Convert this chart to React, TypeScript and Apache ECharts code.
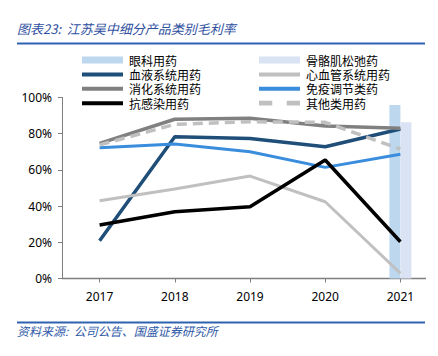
import React, { useEffect, useRef } from "react";
import * as echarts from "echarts";

const years = ["2017", "2018", "2019", "2020", "2021"];
const yTicks = ["0%", "20%", "40%", "60%", "80%", "100%"];
const eye = [null, null, null, null, 95.9];
const muscle = [null, null, null, null, 86.3];
const blood = [20.9, 78.3, 77.4, 72.8, 82.6];
const cardio = [43.0, 49.4, 56.6, 42.4, 2.9];
const digest = [74.7, 88.0, 88.5, 84.2, 83.0];
const immune = [72.3, 74.3, 70.0, 61.4, 68.6];
const anti = [29.6, 36.9, 39.7, 65.5, 20.3];
const other = [73.8, 85.2, 86.6, 86.3, 71.5];

const CJK = "'Noto Sans CJK SC', 'Noto Sans', sans-serif";

export default function App() {
  const ref = useRef<HTMLDivElement>(null);
  useEffect(() => {
    if (!ref.current) return;
    const chart = echarts.init(ref.current, undefined, { renderer: "svg" });
    const line = (name: string, data: number[], color: string, width = 3, type: any = "solid") => ({
      name,
      type: "line",
      data,
      symbol: "none",
      lineStyle: { color, width, type },
      itemStyle: { color },
      z: 3,
    });
    const legendBase = {
      orient: "vertical",
      top: 54,
      padding: 0,
      itemWidth: 41,
      itemHeight: 12,
      itemGap: 2.4,
      symbolKeepAspect: true,
      textStyle: { fontSize: 12, lineHeight: 12, color: "#000", fontFamily: CJK, padding: [0, 0, 0, 1] },
    };
    const barIcon = "path://M0,0H41V7H0Z";
    const lineIcon = "path://M0,0H41V4H0Z";
    const dashIcon = "path://M0,0H11V4H0ZM23,0H34V4H23Z";
    chart.setOption({
      animation: false,
      grid: { left: 62, right: 0, top: 97.5, bottom: 77.5 },
      legend: [
        {
          ...legendBase,
          left: 82,
          data: [
            { name: "眼科用药", icon: barIcon },
            { name: "血液系统用药", icon: lineIcon },
            { name: "消化系统用药", icon: lineIcon },
            { name: "抗感染用药", icon: lineIcon },
          ],
        },
        {
          ...legendBase,
          left: 259,
          data: [
            { name: "骨骼肌松弛药", icon: barIcon },
            { name: "心血管系统用药", icon: lineIcon },
            { name: "免疫调节类药", icon: lineIcon },
            { name: "其他类用药", icon: dashIcon },
          ],
        },
      ],
      xAxis: {
        type: "category",
        data: years,
        boundaryGap: true,
        axisLine: { show: false },
        axisTick: { show: true, alignWithLabel: true, length: 4, lineStyle: { color: "#7f7f7f" } },
        axisLabel: { fontSize: 12, color: "#000", margin: 12, fontFamily: "'Noto Sans', sans-serif" },
      },
      yAxis: {
        type: "value",
        min: 0,
        max: 100,
        interval: 20,
        axisLine: { show: true, lineStyle: { color: "#7f7f7f", width: 1 } },
        axisTick: { show: true, length: 4, lineStyle: { color: "#7f7f7f" } },
        splitLine: { show: false },
        axisLabel: {
          fontSize: 12,
          color: "#000",
          margin: 10,
          fontFamily: "'Noto Sans', sans-serif",
          formatter: (v: number) => yTicks[Math.round(v / 20)],
        },
      },
      series: [
        { name: "眼科用药", type: "bar", data: eye, barWidth: 11, barGap: "0%", itemStyle: { color: "#bdd7ee" }, z: 2 },
        { name: "骨骼肌松弛药", type: "bar", data: muscle, barWidth: 11, barGap: "0%", itemStyle: { color: "#dae3f3" }, z: 2 },
        line("血液系统用药", blood, "#1f4e79", 3.5),
        line("心血管系统用药", cardio, "#c0c0c0", 3),
        line("消化系统用药", digest, "#808080", 3.5),
        line("免疫调节类药", immune, "#3a8ddd", 3),
        line("抗感染用药", anti, "#000000", 3.5),
        line("其他类用药", other, "#c0c0c0", 3.5, [10, 6]),
      ],
      graphic: [
        {
          type: "text",
          left: 17,
          top: 22,
          style: {
            text: "图表23:  江苏吴中细分产品类别毛利率",
            fontSize: 13,
            fontStyle: "italic",
            fontFamily: CJK,
            fill: "#2f4f9f",
          },
        },
        { type: "line", shape: { x1: 17, y1: 43.5, x2: 425, y2: 43.5 }, style: { stroke: "#2e62b0", lineWidth: 2 } },
        { type: "line", shape: { x1: 62, y1: 278.5, x2: 426, y2: 278.5 }, style: { stroke: "#7f7f7f", lineWidth: 1.5 }, z: 1 },
        { type: "line", shape: { x1: 17, y1: 322.5, x2: 425, y2: 322.5 }, style: { stroke: "#2e62b0", lineWidth: 2 } },
        {
          type: "text",
          left: 17,
          top: 324,
          style: {
            text: "资料来源:  公司公告、国盛证券研究所",
            fontSize: 12,
            fontStyle: "italic",
            fontFamily: CJK,
            fill: "#2f5aa8",
          },
        },
      ],
    });
    return () => chart.dispose();
  }, []);
  return <div ref={ref} style={{ width: 438, height: 356, position: "absolute", left: 0, top: 0 }} />;
}
